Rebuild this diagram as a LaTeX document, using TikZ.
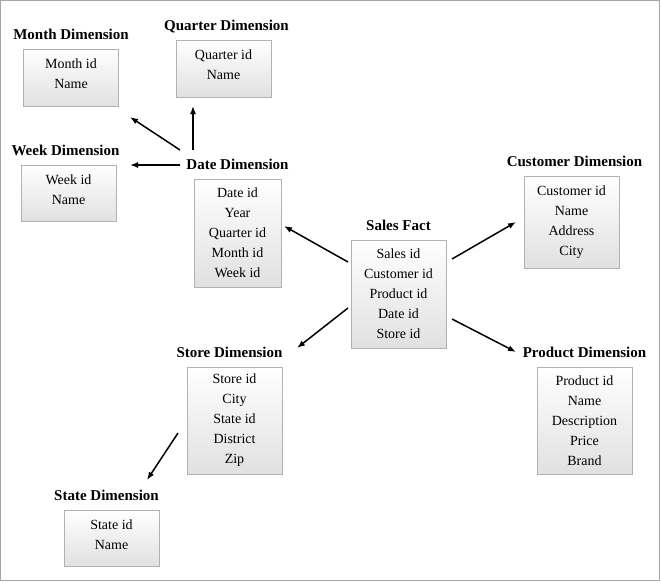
\documentclass[tikz,border=0pt]{standalone}
\usepackage{fontspec}
\setmainfont{Liberation Serif}
\usetikzlibrary{positioning,arrows.meta}

\begin{document}
\begin{tikzpicture}[x=1pt, y=-1pt, node distance=9pt]

    % Define block styles
    \tikzset{
        table/.style={rectangle, draw=gray!60, top color=white, bottom color=gray!24,
            minimum width=95pt, inner sep=0pt, align=center,
            font=\fontsize{14}{20}\selectfont},
        title/.style={inner sep=0pt, text height=10pt, text depth=0pt,
            font=\fontsize{15}{18}\selectfont\bfseries},
        line/.style={draw, line width=1.5pt, -{Latex[length=8pt,width=6pt]}}
    }

    \useasboundingbox (0,0) rectangle (661,582);
    \draw[gray!70] (0.5,0.5) rectangle (659.5,580);

    % Place nodes
    \node [table, minimum height=57pt] (month) at (71,77.5) {Month id\\Name\\[-13pt]};
    \node [table, minimum height=57pt] (quarter) at (223.5,68.5) {Quarter id\\Name\\[-13pt]};
    \node [table, minimum height=56pt] (week) at (68.5,193) {Week id\\Name\\[-13pt]};
    \node [table, minimum height=108pt, minimum width=87pt] (date) at (237.5,233)
        {Date id\\Year\\Quarter id\\Month id\\Week id};
    \node [table, minimum height=108pt] (sales) at (398.5,294)
        {Sales id\\Customer id\\Product id\\Date id\\Store id};
    \node [table, minimum height=92pt] (customer) at (571.5,222)
        {Customer id\\Name\\Address\\City};
    \node [table, minimum height=107pt] (product) at (584.5,420.5)
        {Product id\\Name\\Description\\Price\\Brand};
    \node [table, minimum height=107pt] (store) at (234.5,420.5)
        {Store id\\City\\State id\\District\\Zip};
    \node [table, minimum height=56pt] (state) at (111.5,538) {State id\\Name\\[-13pt]};

    % Place titles
    \node [title, above=of month] (monthT) {Month Dimension};
    \node [title, above=of quarter, xshift=3pt] (quarterT) {Quarter Dimension};
    \node [title, above=of week, xshift=-3pt] (weekT) {Week Dimension};
    \node [title, above=of date] (dateT) {Date Dimension};
    \node [title, above=of sales] (salesT) {Sales Fact};
    \node [title, above=of customer, xshift=3pt] (customerT) {Customer Dimension};
    \node [title, above=of product] (productT) {Product Dimension};
    \node [title, above=of store, xshift=-5pt] (storeT) {Store Dimension};
    \node [title, above=of state, xshift=-5pt] (stateT) {State Dimension};

    % Arrow ends
    \coordinate (dmA) at (180,150);  \coordinate (dmB) at (130,117);
    \coordinate (dqA) at (193,150);  \coordinate (dqB) at (193,106);
    \coordinate (dwA) at (180,165);  \coordinate (dwB) at (130,165);
    \coordinate (sdA) at (348,262);  \coordinate (sdB) at (284,226);
    \coordinate (scA) at (452,259);  \coordinate (scB) at (516,222);
    \coordinate (ssA) at (348,308);  \coordinate (ssB) at (297,348);
    \coordinate (spA) at (452,319);  \coordinate (spB) at (516,352);
    \coordinate (stA) at (178,433);  \coordinate (stB) at (147,480);

    % Draw edges
    \path [line] (dmA) -- (dmB);
    \path [line] (dqA) -- (dqB);
    \path [line] (dwA) -- (dwB);
    \path [line] (sdA) -- (sdB);
    \path [line] (scA) -- (scB);
    \path [line] (ssA) -- (ssB);
    \path [line] (spA) -- (spB);
    \path [line] (stA) -- (stB);

\end{tikzpicture}
\end{document}
